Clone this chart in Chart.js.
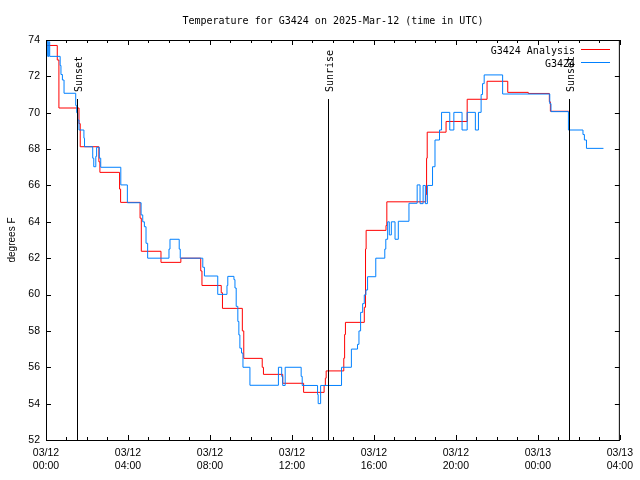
<!DOCTYPE html>
<html>
<head>
<meta charset="utf-8">
<script src="https://cdn.jsdelivr.net/npm/chart.js@4.4.1/dist/chart.umd.min.js"></script>
<style>
  html, body { margin: 0; padding: 0; background: #ffffff; }
  canvas { display: block; }
</style>
</head>
<body>
<canvas id="tempChart" width="640" height="480"></canvas>
<script>
// hours since 03/12 00:00 UTC, value changes at each listed hour
var analysisHours = [0.03, 0.55, 0.63, 1.61, 1.67, 2.58, 2.63, 3.59, 3.64, 4.59, 4.65, 5.61, 6.58, 7.55, 7.61,
    8.55, 8.61, 9.58, 9.65, 10.55, 10.61, 11.55, 12.57, 13.57, 13.63, 13.67, 14.53, 14.57, 14.61, 15.53,
    15.59, 15.62, 16.59, 16.63, 18.53, 18.57, 18.6, 19.52, 20.55, 21.52, 22.53, 23.53, 24.56, 24.61, 25.51];
var analysisTemps = [73.7, 72.9, 70.26, 69.4, 68.13, 67.3, 66.72, 65.8, 65.07, 64.2, 62.38, 61.77, 62.0, 61.3, 60.5,
    60.1, 59.24, 58.0, 56.49, 56.0, 55.61, 55.12, 54.62, 55.0, 55.4, 55.8, 56.5, 57.8, 58.47, 59.3,
    62.5, 63.53, 63.8, 65.1, 65.5, 67.5, 68.93, 69.52, 70.74, 71.73, 71.12, 71.06, 70.6, 70.08, 70.08];

var obsHours = [0.03, 0.06, 0.1, 0.14, 0.18, 0.69, 0.73, 0.8, 0.88, 1.45, 1.5, 1.55, 1.61, 1.85, 1.88,
    2.28, 2.33, 2.43, 2.47, 2.6, 2.67, 3.65, 3.97, 4.64, 4.72, 4.8, 4.88, 4.96, 6.0, 6.05,
    6.5, 6.55, 7.65, 7.73, 8.38, 8.83, 8.87, 9.17, 9.22, 9.28, 9.36, 9.41, 9.46, 9.54, 9.61,
    9.95, 11.34, 11.5, 11.55, 11.67, 12.45, 12.5, 13.25, 13.28, 13.4, 14.42, 14.9, 15.2, 15.27, 15.35,
    15.45, 15.53, 15.61, 15.69, 16.09, 16.53, 16.58, 16.67, 16.75, 16.85, 17.03, 17.19, 17.71, 18.11, 18.25,
    18.4, 18.51, 18.61, 18.86, 18.98, 19.2, 19.3, 19.7, 19.9, 20.3, 20.55, 20.95, 21.1, 21.23, 21.3,
    21.38, 22.28, 24.58, 24.64, 25.49, 26.2, 26.27, 26.37, 27.2];
var obsTemps = [73.1, 74.0, 73.1, 73.9, 73.1, 72.6, 72.1, 71.8, 71.07, 70.4, 70.0, 69.6, 69.05, 68.6, 68.13,
    67.5, 67.03, 67.6, 68.1, 67.5, 67.0, 66.03, 65.05, 64.38, 64.0, 63.73, 62.82, 62.0, 62.5, 63.04,
    62.5, 62.0, 61.5, 61.02, 60.01, 60.5, 61.0, 60.82, 60.36, 59.35, 58.52, 57.78, 57.05, 56.78, 56.0,
    55.01, 56.0, 55.5, 55.0, 56.0, 55.5, 55.0, 54.5, 54.0, 55.0, 56.0, 57.0, 57.26, 58.0, 59.02,
    59.5, 59.98, 60.25, 60.98, 62.0, 62.5, 63.04, 64.0, 63.28, 64.0, 63.04, 64.03, 65.02, 66.03, 65.0,
    66.0, 65.0, 66.0, 67.03, 68.5, 69.05, 70.02, 69.05, 70.02, 69.05, 70.02, 69.05, 70.02, 71.0, 71.6,
    72.08, 71.03, 70.5, 70.06, 69.05, 68.8, 68.5, 68.04, 68.04];

var xTickLabels = [['03/12', '00:00'], ['03/12', '04:00'], ['03/12', '08:00'], ['03/12', '12:00'],
    ['03/12', '16:00'], ['03/12', '20:00'], ['03/13', '00:00'], ['03/13', '04:00']];
var yTicks = [52, 54, 56, 58, 60, 62, 64, 66, 68, 70, 72, 74];

var markerHours = [1.52, 13.77, 25.51];
var markerLabels = ['Sunset', 'Sunrise', 'Sunset'];

(function () {
    var MONO = '"DejaVu Sans Mono", monospace';
    var SANS = '"Liberation Sans", Arial, sans-serif';

    function toPoints(xs, ys) {
        var out = [];
        for (var i = 0; i < xs.length; i++) {
            out.push({ x: xs[i], y: ys[i] });
        }
        return out;
    }

    // gnuplot look: frame, inward ticks, markers, legend, title
    var gnuplotDecor = {
        id: 'gnuplotDecor',
        afterDatasetsDraw: function (chart) {
            var ctx = chart.ctx;
            var area = chart.chartArea;
            var xs = chart.scales.x;
            var ys = chart.scales.y;
            var i, px, py, len;

            ctx.save();
            ctx.strokeStyle = '#000000';
            ctx.lineWidth = 1;

            ctx.strokeRect(area.left + 0.5, area.top + 0.5, area.right - area.left - 1, area.bottom - area.top);

            ctx.beginPath();
            for (i = xs.min; i <= xs.max; i++) {
                px = Math.round(xs.getPixelForValue(i)) + 0.5;
                len = i % 4 === 0 ? 5 : 3;
                ctx.moveTo(px, area.bottom);
                ctx.lineTo(px, area.bottom - len);
                ctx.moveTo(px, area.top);
                ctx.lineTo(px, area.top + len);
            }
            for (i = 0; i < yTicks.length; i++) {
                py = Math.round(ys.getPixelForValue(yTicks[i])) + 0.5;
                ctx.moveTo(area.left, py);
                ctx.lineTo(area.left + 5, py);
                ctx.moveTo(area.right, py);
                ctx.lineTo(area.right - 5, py);
            }
            ctx.stroke();

            // sunrise / sunset markers
            ctx.font = '10px ' + MONO;
            ctx.fillStyle = '#000000';
            ctx.textAlign = 'left';
            ctx.textBaseline = 'alphabetic';
            for (i = 0; i < markerHours.length; i++) {
                px = Math.round(xs.getPixelForValue(markerHours[i])) + 0.5;
                ctx.beginPath();
                ctx.moveTo(px, area.bottom);
                ctx.lineTo(px, area.top + 59);
                ctx.stroke();
                ctx.save();
                ctx.translate(px + 4.5, area.top + 52);
                ctx.rotate(-Math.PI / 2);
                ctx.fillText(markerLabels[i], 0, 0);
                ctx.restore();
            }

            // legend, right aligned text with sample line
            var ds = chart.data.datasets;
            ctx.textAlign = 'right';
            for (i = 0; i < ds.length; i++) {
                py = area.top + 9 + i * 13;
                ctx.fillStyle = '#000000';
                ctx.fillText(ds[i].label, area.left + 529, py + 5);
                ctx.strokeStyle = ds[i].borderColor;
                ctx.beginPath();
                ctx.moveTo(area.left + 535, py + 0.5);
                ctx.lineTo(area.left + 564, py + 0.5);
                ctx.stroke();
            }

            // title
            ctx.fillStyle = '#000000';
            ctx.textAlign = 'center';
            ctx.fillText('Temperature for G3424 on 2025-Mar-12 (time in UTC)', (area.left + area.right) / 2, 24);

            // y axis title
            ctx.font = '10px ' + SANS;
            ctx.save();
            ctx.translate(15, (area.top + area.bottom) / 2);
            ctx.rotate(-Math.PI / 2);
            ctx.fillText('degrees F', 0, 0);
            ctx.restore();

            ctx.restore();
        }
    };

    function buildChart(id) {
        var canvas = document.getElementById(id);
        if (!canvas || typeof Chart === 'undefined') {
            return;
        }

        new Chart(canvas, {
            type: 'line',
            data: {
                datasets: [{
                    label: 'G3424 Analysis',
                    data: toPoints(analysisHours, analysisTemps),
                    borderColor: '#ff0000',
                    borderWidth: 1,
                    pointRadius: 0,
                    stepped: true,
                    fill: false,
                    order: 1
                }, {
                    label: 'G3424',
                    data: toPoints(obsHours, obsTemps),
                    borderColor: 'rgb(0, 128, 255)',
                    borderWidth: 1,
                    pointRadius: 0,
                    stepped: true,
                    fill: false,
                    order: 0
                }]
            },
            options: {
                responsive: false,
                animation: false,
                layout: { padding: { top: 40, right: 18, bottom: 0, left: 0 } },
                plugins: {
                    legend: { display: false },
                    title: { display: false },
                    tooltip: { enabled: false }
                },
                scales: {
                    x: {
                        type: 'linear',
                        min: 0,
                        max: 28,
                        afterFit: function (scale) { scale.height = 40; },
                        grid: { display: false, drawTicks: false },
                        border: { display: false },
                        ticks: {
                            stepSize: 4,
                            autoSkip: false,
                            maxRotation: 0,
                            padding: 7,
                            color: '#000000',
                            font: { family: SANS, size: 10.5, lineHeight: 1.2 },
                            callback: function (value, index) { return xTickLabels[index]; }
                        }
                    },
                    y: {
                        min: 52,
                        max: 74,
                        afterFit: function (scale) { scale.width = 46; },
                        grid: { display: false, drawTicks: false },
                        border: { display: false },
                        ticks: {
                            stepSize: 2,
                            padding: 6,
                            color: '#000000',
                            font: { family: SANS, size: 10.5 }
                        }
                    }
                }
            },
            plugins: [gnuplotDecor]
        });
    }

    document.addEventListener('DOMContentLoaded', function () {
        buildChart('tempChart');
    });
})();
</script>
</body>
</html>
